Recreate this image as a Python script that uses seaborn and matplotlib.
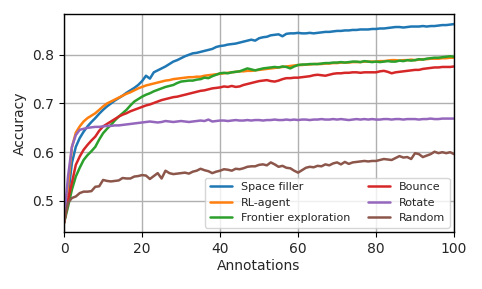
import matplotlib
matplotlib.use("Agg")
import matplotlib.pyplot as plt
import seaborn as sns
import pandas as pd

annotations = list(range(0, 101))

space_filler = [
    0.455, 0.510, 0.578, 0.611, 0.629, 0.642, 0.653, 0.662, 0.670, 0.679,
    0.687, 0.694, 0.700, 0.706, 0.711, 0.716, 0.722, 0.727, 0.732, 0.738,
    0.746, 0.757, 0.751, 0.764, 0.768, 0.772, 0.776, 0.781, 0.786, 0.789,
    0.793, 0.797, 0.800, 0.803, 0.804, 0.806, 0.808, 0.810, 0.812, 0.816,
    0.818, 0.819, 0.821, 0.822, 0.823, 0.825, 0.827, 0.829, 0.831, 0.829,
    0.834, 0.836, 0.837, 0.840, 0.841, 0.842, 0.838, 0.843, 0.844, 0.844,
    0.845, 0.844, 0.844, 0.845, 0.844, 0.845, 0.846, 0.847, 0.847, 0.848,
    0.849, 0.849, 0.850, 0.850, 0.851, 0.851, 0.852, 0.852, 0.852, 0.853,
    0.853, 0.854, 0.854, 0.855, 0.856, 0.857, 0.857, 0.856, 0.857, 0.858,
    0.858, 0.858, 0.859, 0.858, 0.859, 0.859, 0.860, 0.861, 0.861, 0.862,
    0.863]

rl_agent = [
    0.455, 0.530, 0.610, 0.640, 0.653, 0.663, 0.670, 0.675, 0.680, 0.687,
    0.694, 0.700, 0.704, 0.708, 0.712, 0.716, 0.720, 0.723, 0.727, 0.731,
    0.734, 0.737, 0.739, 0.741, 0.743, 0.745, 0.747, 0.748, 0.750, 0.751,
    0.752, 0.753, 0.754, 0.754, 0.755, 0.755, 0.757, 0.758, 0.759, 0.760,
    0.761, 0.762, 0.763, 0.764, 0.765, 0.766, 0.766, 0.767, 0.767, 0.768,
    0.769, 0.770, 0.771, 0.772, 0.773, 0.774, 0.775, 0.776, 0.777, 0.778,
    0.779, 0.779, 0.780, 0.780, 0.781, 0.781, 0.781, 0.782, 0.782, 0.783,
    0.783, 0.784, 0.784, 0.784, 0.785, 0.785, 0.785, 0.786, 0.786, 0.786,
    0.786, 0.787, 0.787, 0.788, 0.789, 0.789, 0.788, 0.789, 0.789, 0.790,
    0.789, 0.790, 0.791, 0.791, 0.792, 0.792, 0.792, 0.793, 0.793, 0.794,
    0.794]

frontier = [
    0.455, 0.488, 0.523, 0.550, 0.568, 0.584, 0.594, 0.602, 0.611, 0.626,
    0.639, 0.648, 0.656, 0.665, 0.673, 0.680, 0.687, 0.696, 0.704, 0.709,
    0.714, 0.718, 0.721, 0.725, 0.728, 0.731, 0.734, 0.736, 0.738, 0.742,
    0.745, 0.746, 0.747, 0.747, 0.749, 0.750, 0.753, 0.752, 0.756, 0.759,
    0.762, 0.763, 0.762, 0.764, 0.765, 0.766, 0.769, 0.772, 0.770, 0.768,
    0.770, 0.772, 0.773, 0.774, 0.775, 0.774, 0.776, 0.775, 0.772, 0.776,
    0.779, 0.780, 0.780, 0.781, 0.781, 0.781, 0.782, 0.783, 0.783, 0.784,
    0.784, 0.785, 0.784, 0.785, 0.786, 0.786, 0.785, 0.787, 0.786, 0.785,
    0.786, 0.785, 0.786, 0.787, 0.786, 0.786, 0.788, 0.787, 0.789, 0.788,
    0.789, 0.791, 0.790, 0.792, 0.793, 0.794, 0.794, 0.795, 0.796, 0.797,
    0.796]

bounce = [
    0.455, 0.502, 0.537, 0.574, 0.591, 0.605, 0.615, 0.624, 0.632, 0.644,
    0.653, 0.658, 0.663, 0.668, 0.673, 0.677, 0.680, 0.684, 0.687, 0.690,
    0.693, 0.696, 0.698, 0.701, 0.704, 0.707, 0.709, 0.711, 0.713, 0.714,
    0.716, 0.718, 0.720, 0.722, 0.724, 0.726, 0.727, 0.729, 0.731, 0.732,
    0.733, 0.735, 0.734, 0.736, 0.734, 0.735, 0.738, 0.740, 0.742, 0.744,
    0.746, 0.747, 0.748, 0.746, 0.745, 0.747, 0.750, 0.752, 0.752, 0.753,
    0.753, 0.754, 0.755, 0.756, 0.758, 0.759, 0.758, 0.757, 0.759, 0.761,
    0.762, 0.762, 0.763, 0.763, 0.764, 0.764, 0.763, 0.764, 0.764, 0.764,
    0.764, 0.766, 0.767, 0.765, 0.762, 0.764, 0.765, 0.766, 0.767, 0.768,
    0.769, 0.769, 0.771, 0.772, 0.773, 0.774, 0.774, 0.775, 0.775, 0.775,
    0.776]

rotate = [
    0.460, 0.550, 0.611, 0.635, 0.646, 0.648, 0.650, 0.651, 0.652, 0.652,
    0.653, 0.654, 0.654, 0.655, 0.655, 0.656, 0.657, 0.658, 0.659, 0.660,
    0.661, 0.662, 0.663, 0.662, 0.661, 0.662, 0.664, 0.663, 0.662, 0.663,
    0.664, 0.663, 0.662, 0.663, 0.664, 0.665, 0.664, 0.667, 0.663, 0.664,
    0.665, 0.665, 0.664, 0.665, 0.666, 0.665, 0.665, 0.666, 0.665, 0.666,
    0.666, 0.665, 0.666, 0.666, 0.667, 0.666, 0.666, 0.667, 0.666, 0.667,
    0.666, 0.667, 0.667, 0.666, 0.667, 0.667, 0.668, 0.667, 0.667, 0.668,
    0.667, 0.668, 0.667, 0.666, 0.667, 0.668, 0.667, 0.668, 0.667, 0.668,
    0.667, 0.667, 0.668, 0.668, 0.667, 0.668, 0.668, 0.667, 0.668, 0.668,
    0.668, 0.667, 0.668, 0.668, 0.669, 0.668, 0.668, 0.669, 0.669, 0.669,
    0.669]

random_policy = [
    0.457, 0.496, 0.506, 0.509, 0.516, 0.519, 0.519, 0.520, 0.529, 0.530,
    0.543, 0.541, 0.540, 0.541, 0.542, 0.547, 0.546, 0.546, 0.550, 0.551,
    0.553, 0.552, 0.545, 0.551, 0.557, 0.546, 0.562, 0.557, 0.555, 0.556,
    0.557, 0.558, 0.556, 0.560, 0.562, 0.566, 0.563, 0.561, 0.557, 0.560,
    0.562, 0.565, 0.564, 0.562, 0.566, 0.565, 0.567, 0.570, 0.571, 0.571,
    0.574, 0.575, 0.573, 0.579, 0.575, 0.570, 0.572, 0.568, 0.567, 0.562,
    0.558, 0.563, 0.568, 0.570, 0.569, 0.572, 0.571, 0.575, 0.573, 0.577,
    0.579, 0.575, 0.580, 0.576, 0.579, 0.580, 0.581, 0.582, 0.581, 0.582,
    0.582, 0.584, 0.586, 0.585, 0.584, 0.588, 0.592, 0.589, 0.590, 0.586,
    0.598, 0.596, 0.590, 0.593, 0.596, 0.601, 0.598, 0.600, 0.598, 0.600,
    0.596]

series_names = ["Space filler", "RL-agent", "Frontier exploration",
                "Bounce", "Rotate", "Random"]
series_values = [space_filler, rl_agent, frontier, bounce, rotate, random_policy]

rows = []
for name, vals in zip(series_names, series_values):
    for a, v in zip(annotations, vals):
        rows.append({"Annotations": a, "Accuracy": v, "Method": name})
df = pd.DataFrame(rows)

sns.set_style("whitegrid", {
    "axes.edgecolor": "black",
    "grid.color": "#b0b0b0",
    "xtick.bottom": True,
    "ytick.left": True,
    "axes.linewidth": 1.0,
})
plt.rcParams["font.family"] = ["DejaVu Sans"]

fig = plt.figure(figsize=(4.82, 2.89), dpi=100)
ax = fig.add_axes([0.133, 0.197, 0.809, 0.755])

sns.lineplot(data=df, x="Annotations", y="Accuracy", hue="Method",
             hue_order=series_names, palette="tab10", linewidth=1.8, ax=ax)

ax.set_xlim(0, 100)
ax.set_ylim(0.436, 0.884)
ax.set_xticks([0, 20, 40, 60, 80, 100])
ax.set_yticks([0.5, 0.6, 0.7, 0.8])
ax.tick_params(axis="both", labelsize=10, length=3.5, width=0.8, color="black")
ax.grid(True, color="#b0b0b0", linewidth=1.0)
ax.set_xlabel("Annotations", fontsize=10, labelpad=2)
ax.set_ylabel("Accuracy", fontsize=10)
for s in ax.spines.values():
    s.set_color("black")
    s.set_linewidth(1.0)

leg = ax.legend(loc="lower right", ncol=2, fontsize=8, frameon=True,
                columnspacing=1.6, handlelength=2.0,
                borderaxespad=0.4)
leg.get_frame().set_edgecolor("#cccccc")

fig.savefig("out.png", dpi=100)
